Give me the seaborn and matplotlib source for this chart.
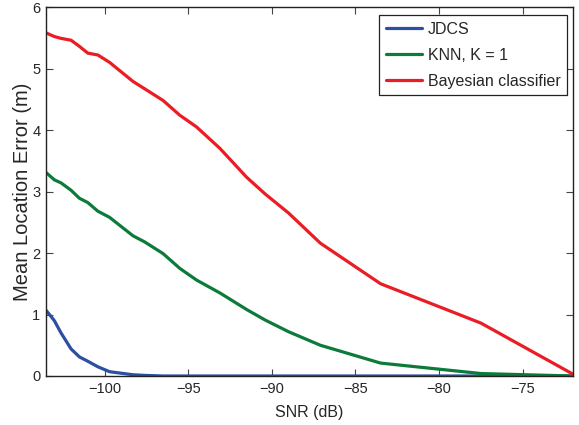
import numpy as np
import pandas as pd
import matplotlib
matplotlib.use("Agg")
import matplotlib.pyplot as plt
import seaborn as sns

# SNR grid (dB) and mean location error (m) for each method
snr_db = [-103.5, -103.0, -102.6, -102.0, -101.5, -101.0, -100.4, -99.7, -98.3,
          -97.6, -96.5, -95.5, -94.5, -93.1, -91.5, -90.4, -89.0, -87.1,
          -83.5, -77.5, -72.0]
err_jdcs = [1.07, 0.90, 0.70, 0.44, 0.31, 0.24, 0.15, 0.07, 0.02,
            0.01, 0.0, 0.0, 0.0, 0.0, 0.0, 0.0, 0.0, 0.0,
            0.0, 0.0, 0.0]
err_knn = [3.31, 3.19, 3.14, 3.02, 2.89, 2.82, 2.68, 2.58, 2.28,
           2.18, 1.99, 1.75, 1.56, 1.35, 1.08, 0.91, 0.72, 0.50,
           0.21, 0.04, 0.0]
err_bayes = [5.58, 5.52, 5.49, 5.46, 5.36, 5.25, 5.22, 5.10, 4.79,
             4.67, 4.48, 4.24, 4.05, 3.70, 3.23, 2.96, 2.65, 2.16,
             1.50, 0.86, 0.03]

methods = ["JDCS", "KNN, K = 1", "Bayesian classifier"]
colors = ["#2D4FA3", "#0C7B3A", "#EC1C24"]
x_ticks = [-100, -95, -90, -85, -80, -75]
y_ticks = [0, 1, 2, 3, 4, 5, 6]

df = pd.concat([
    pd.DataFrame({"snr": snr_db, "err": vals, "method": name})
    for name, vals in zip(methods, [err_jdcs, err_knn, err_bayes])
], ignore_index=True)

sns.set_style("ticks")
plt.rcParams["font.family"] = ["Liberation Sans", "DejaVu Sans"]
plt.rcParams["xtick.direction"] = "in"
plt.rcParams["ytick.direction"] = "in"

fig = plt.figure(figsize=(5.79, 4.25), dpi=100)
ax = fig.add_axes([0.0794, 0.1153, 0.9102, 0.8682])

sns.lineplot(data=df, x="snr", y="err", hue="method", hue_order=methods,
             palette=colors, linewidth=2.3, ax=ax, legend=True,
             estimator=None, sort=False)

ax.set_xlim(-103.5, -72.0)
ax.set_ylim(0, 6)
ax.set_xticks(x_ticks)
ax.set_xticklabels([f"\u2212{abs(t)}" for t in x_ticks])
ax.set_yticks(y_ticks)
ax.tick_params(axis="both", which="both", direction="in", length=5,
               width=0.8, top=True, right=True, labelsize=10.5,
               color="#444444", pad=4)
for s in ax.spines.values():
    s.set_visible(True)
    s.set_linewidth(1.0)
    s.set_color("#222222")

ax.set_xlabel("SNR (dB)", fontsize=11.5, labelpad=7)
ax.set_ylabel("Mean Location Error (m)", fontsize=14.5, labelpad=0)

leg = ax.legend(loc="upper right", bbox_to_anchor=(0.9886, 0.978),
                borderaxespad=0, fontsize=11.5, handlelength=2.3,
                handletextpad=0.35, labelspacing=0.7, borderpad=0.4,
                fancybox=False, framealpha=1, edgecolor="#222222")
leg.get_frame().set_linewidth(0.9)
for line in leg.get_lines():
    line.set_linewidth(2.3)

fig.savefig("out.png", dpi=100)
